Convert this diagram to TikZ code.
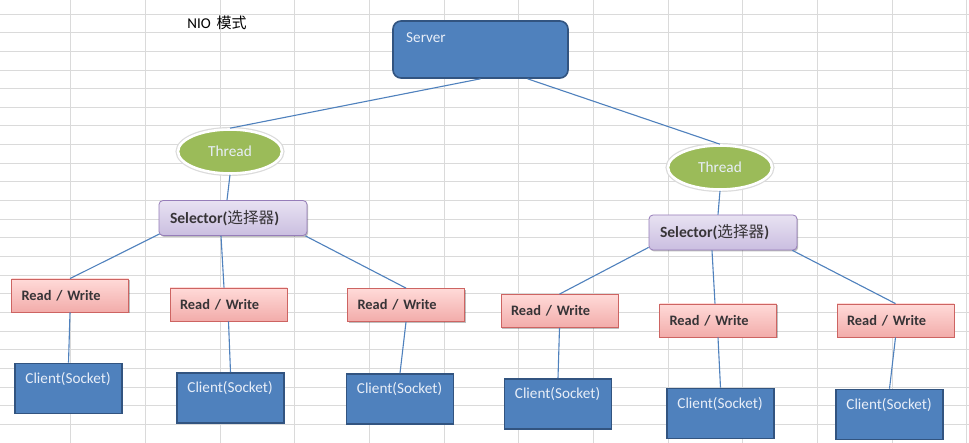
\documentclass[tikz,border=0pt]{standalone}
\usepackage{fontspec}
\setmainfont{Carlito}
\newfontfamily\cjk{Noto Sans CJK SC}
\usetikzlibrary{shapes.geometric,shadows,calc}
\definecolor{gridc}{RGB}{218,218,218}
\definecolor{ofblue}{RGB}{79,129,189}
\definecolor{ofblueb}{RGB}{50,84,128}
\definecolor{ofgreen}{RGB}{155,187,89}
\definecolor{lavtop}{RGB}{232,226,242}
\definecolor{lavbot}{RGB}{202,190,224}
\definecolor{lavb}{RGB}{150,125,185}
\definecolor{pinktop}{RGB}{255,218,216}
\definecolor{pinkbot}{RGB}{242,172,170}
\definecolor{pinkb}{RGB}{205,100,98}
\definecolor{wtxt}{RGB}{232,238,248}
\definecolor{dtxt}{RGB}{55,52,55}
\tikzset{
  gridline/.style={gridc, line width=0.8pt},
  server/.style={draw=ofblueb, line width=1.6pt, fill=ofblue, rounded corners=8pt,
    minimum width=175pt, minimum height=57pt, inner sep=0pt},
  client/.style={draw=ofblueb, line width=1.6pt, fill=ofblue,
    minimum width=107pt, minimum height=50pt, inner sep=0pt},
  thread/.style={ellipse, fill=ofgreen, draw=white, line width=2.6pt,
    preaction={draw=black!14, line width=5pt},
    minimum width=104pt, minimum height=44pt, inner sep=0pt,
    text=wtxt, font=\fontsize{15.3}{17}\selectfont},
  selector/.style={draw=lavb, line width=0.8pt, top color=lavtop, bottom color=lavbot,
    rounded corners=4pt, minimum width=148pt, minimum height=35pt,
    text width=126pt, align=left, inner xsep=11pt, inner ysep=0pt,
    text=dtxt, font=\fontsize{15.6}{17}\selectfont\bfseries,
    drop shadow={shadow xshift=1.2pt, shadow yshift=-1.5pt, opacity=0.25, fill=black}},
  rw/.style={draw=pinkb, line width=0.8pt, top color=pinktop, bottom color=pinkbot,
    minimum width=117pt, minimum height=33pt,
    text width=97pt, align=left, inner xsep=10pt, inner ysep=0pt,
    text=dtxt, font=\fontsize{14.4}{16}\selectfont\bfseries,
    drop shadow={shadow xshift=1.2pt, shadow yshift=-1.5pt, opacity=0.25, fill=black}},
  wlabel/.style={anchor=west, text=wtxt, inner sep=0pt, font=\fontsize{15.2}{17}\selectfont},
  conn/.style={draw=ofblue, line width=1.1pt},
}
\begin{document}
\begin{tikzpicture}[x=1pt, y=-1pt]
\useasboundingbox (0,0) rectangle (969,443);
\fill[white] (0,0) rectangle (969,443);
% spreadsheet grid
\foreach \i in {0,...,12} {
  \draw[gridline] ({70.7+74.67*\i},0) -- ({70.7+74.67*\i},443);
}
\foreach \j in {0,...,22} {
  \draw[gridline] (0,{14+18.65*\j}) -- (969,{14+18.65*\j});
}
% title
\node[inner sep=0pt, font=\fontsize{15}{17}\selectfont] (title) at (217,23) {NIO\, {\cjk 模式}};
% nodes
\node[server] (srv) at (480.5,49.5) {};
\node[wlabel] (srvt) at (406,38) {Server};
\node[thread] (thL) at (230,151.5) {Thread};
\node[thread] (thR) at (720,167.5) {Thread};
\node[selector] (selL) at (233,218) {Selector({\cjk\mdseries 选择器})};
\node[selector] (selR) at (723,232.5) {Selector({\cjk\mdseries 选择器})};
\node[rw] (rw1) at (70,295.5) {Read / Write};
\node[rw] (rw2) at (228.5,304.5) {Read / Write};
\node[rw] (rw3) at (406,305) {Read / Write};
\node[rw] (rw4) at (559.5,311) {Read / Write};
\node[rw] (rw5) at (718,320.5) {Read / Write};
\node[rw] (rw6) at (895.5,320.5) {Read / Write};
\node[client] (c1) at (68.5,388.5) {};
\node[client] (c2) at (230.5,398) {};
\node[client] (c3) at (400,399) {};
\node[client] (c4) at (558,404) {};
\node[client] (c5) at (720.5,413.5) {};
\node[client] (c6) at (889.5,414.5) {};
\foreach \c in {c1,c2,c3,c4,c5,c6} {
  \node[wlabel] (\c t) at ($(\c.north west)+(11,16)$) {Client(Socket)};
}
% connectors
\draw[conn] (srv.south) -- (thL.north);
\draw[conn] ($(srv.south)+(47,0)$) -- (thR.north);
\draw[conn] (thL.south) -- ($(selL.north)+(-6,0)$);
\draw[conn] (thR.south) -- ($(selR.north)+(-5,0)$);
\draw[conn] ($(selL.south west)+(1,-2)$) -- (rw1.north);
\draw[conn] ($(selL.south)+(-12,0)$) -- ($(rw2.north)+(-4.5,0)$);
\draw[conn] ($(selL.south east)+(-2,0)$) -- (rw3.north);
\draw[conn] ($(selR.south west)+(0,-3)$) -- (rw4.north);
\draw[conn] ($(selR.south)+(-11,0)$) -- ($(rw5.north)+(-3,0)$);
\draw[conn] ($(selR.south east)+(-5,0)$) -- (rw6.north);
\draw[conn] (rw1.south) -- (c1.north);
\draw[conn] (rw2.south) -- (c2.north);
\draw[conn] (rw3.south) -- (c3.north);
\draw[conn] (rw4.south) -- (c4.north);
\draw[conn] (rw5.south) -- (c5.north);
\draw[conn] (rw6.south) -- (c6.north);
\end{tikzpicture}
\end{document}
